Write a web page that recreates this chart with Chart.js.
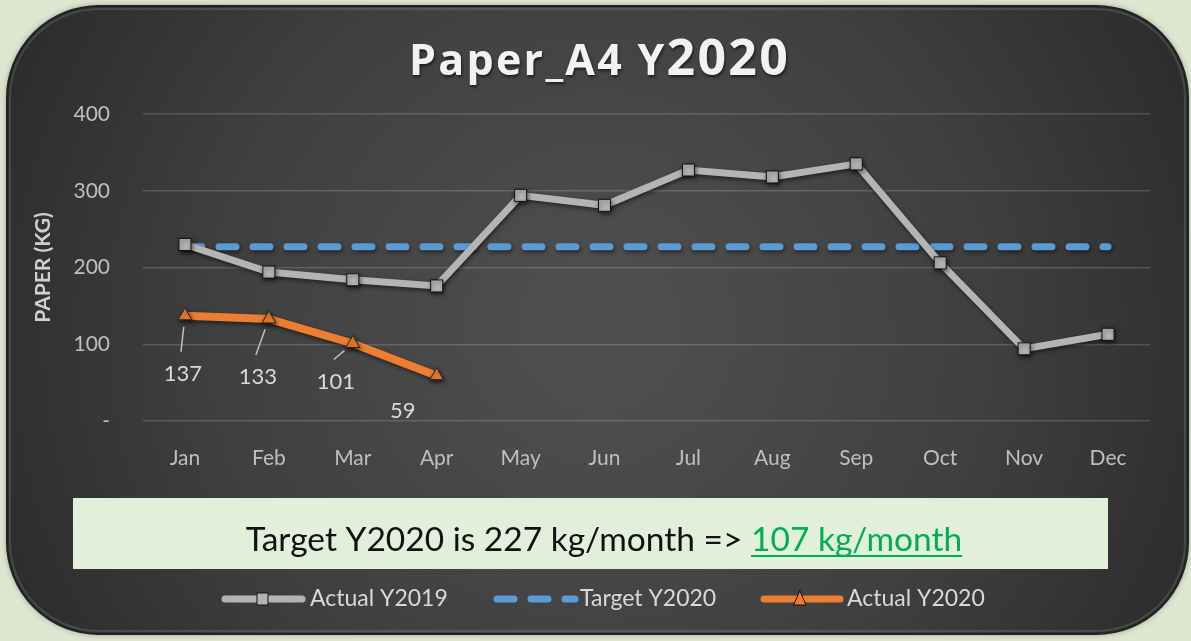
<!DOCTYPE html>
<html>
<head>
<meta charset="utf-8">
<script src="https://cdn.jsdelivr.net/npm/chart.js@4.4.0/dist/chart.umd.min.js"></script>
<style>
  html, body { margin: 0; padding: 0; background: #dde6cf; }
  #wrap { width: 1191px; height: 641px; }
</style>
</head>
<body>
<div id="wrap"><canvas id="paperChart"></canvas></div>
<script>
// data
const months = ['Jan', 'Feb', 'Mar', 'Apr', 'May', 'Jun', 'Jul', 'Aug', 'Sep', 'Oct', 'Nov', 'Dec'];
const actual2019 = [230, 194, 184, 176, 294, 281, 327, 318, 335, 206, 94, 113];
const target2020 = [227, 227, 227, 227, 227, 227, 227, 227, 227, 227, 227, 227];
const actual2020 = [137, 133, 101, 59, null, null, null, null, null, null, null, null];
const yTicks = [0, 100, 200, 300, 400];
const seriesNames = ['Actual Y2019', 'Target Y2020', 'Actual Y2020'];
const titleMain = 'Paper_A4 Y';
const titleYear = '2020';
const noteText = 'Target Y2020 is 227 kg/month => ';
const noteGoal = '107 kg/month';

const FONT = 'Lato, "Open Sans", sans-serif';
const GRAY = '#b4b4b4';
const BLUE = '#5b9bd5';
const ORANGE = '#ed7d31';

function roundRect(ctx, x, y, w, h, r) {
    ctx.beginPath();
    ctx.moveTo(x + r, y);
    ctx.arcTo(x + w, y, x + w, y + h, r);
    ctx.arcTo(x + w, y + h, x, y + h, r);
    ctx.arcTo(x, y + h, x, y, r);
    ctx.arcTo(x, y, x + w, y, r);
    ctx.closePath();
}

const panelPlugin = {
    id: 'panel',
    beforeDraw(chart) {
        const ctx = chart.ctx;
        const W = chart.width, H = chart.height;
        ctx.save();
        ctx.fillStyle = '#dde6cf';
        ctx.fillRect(0, 0, W, H);
        // dark rounded panel
        roundRect(ctx, 7, 6, 1181, 628, 92);
        const g = ctx.createRadialGradient(600, 330, 40, 600, 330, 680);
        g.addColorStop(0, '#4f4f4f');
        g.addColorStop(0.55, '#3f3f3f');
        g.addColorStop(1, '#2a2a2a');
        ctx.fillStyle = g;
        ctx.shadowColor = 'rgba(0,0,0,0.35)';
        ctx.shadowBlur = 6;
        ctx.fill();
        ctx.shadowBlur = 0;
        ctx.lineWidth = 2;
        ctx.strokeStyle = '#222';
        ctx.stroke();
        // soft highlight on the rim
        roundRect(ctx, 10, 9, 1175, 622, 89);
        ctx.lineWidth = 2;
        ctx.strokeStyle = 'rgba(255,255,255,0.12)';
        ctx.stroke();
        ctx.restore();
    },
    beforeDatasetDraw(chart) {
        const ctx = chart.ctx;
        ctx.save();
        ctx.shadowColor = 'rgba(0,0,0,0.55)';
        ctx.shadowBlur = 4;
        ctx.shadowOffsetX = 1;
        ctx.shadowOffsetY = 2;
    },
    afterDatasetDraw(chart) {
        chart.ctx.restore();
    },
    afterDatasetsDraw(chart) {
        // value labels for Actual Y2020 with leader lines
        const ctx = chart.ctx;
        const meta = chart.getDatasetMeta(2);
        const offsets = [[-2, 58, true], [-11, 58, true], [-17, 38, true], [-34, 35, false]];
        ctx.save();
        ctx.font = '22px ' + FONT;
        ctx.fillStyle = '#d9d9d9';
        ctx.textAlign = 'center';
        ctx.textBaseline = 'middle';
        meta.data.forEach((pt, i) => {
            const v = actual2020[i];
            if (v == null || !offsets[i]) return;
            const lx = pt.x + offsets[i][0];
            const ly = pt.y + offsets[i][1];
            ctx.fillText(String(v), lx, ly);
            if (offsets[i][2]) {
                const sx = lx - 2, sy = ly - 22;
                const dx = sx - pt.x, dy = sy - pt.y;
                const d = Math.hypot(dx, dy);
                ctx.beginPath();
                ctx.moveTo(sx, sy);
                ctx.lineTo(pt.x + dx / d * 11, pt.y + dy / d * 11);
                ctx.strokeStyle = '#bfbfbf';
                ctx.lineWidth = 1.5;
                ctx.stroke();
            }
        });
        ctx.restore();
    },
    afterDraw(chart) {
        const ctx = chart.ctx;
        ctx.save();

        // title, letter-spaced to span about 380px
        ctx.textBaseline = 'alphabetic';
        ctx.textAlign = 'left';
        const f1 = 'bold 43px "Open Sans", sans-serif';
        const f2 = 'bold 50px "Open Sans", sans-serif';
        ctx.letterSpacing = '0px';
        ctx.font = f1;
        const w1 = ctx.measureText(titleMain).width;
        ctx.font = f2;
        const w2 = ctx.measureText(titleYear).width;
        const nCh = titleMain.length + titleYear.length;
        const sp = Math.max(0, (381 - w1 - w2) / nCh);
        const tx = 409;
        ctx.shadowColor = 'rgba(0,0,0,0.6)';
        ctx.shadowBlur = 3;
        ctx.shadowOffsetX = 1;
        ctx.shadowOffsetY = 2;
        ctx.fillStyle = '#f2f2f2';
        ctx.letterSpacing = sp + 'px';
        ctx.font = f1;
        ctx.fillText(titleMain, tx, 75);
        ctx.font = f2;
        ctx.fillText(titleYear, tx + w1 + sp * titleMain.length, 75);
        ctx.letterSpacing = '0px';
        ctx.shadowColor = 'transparent';

        // note box
        ctx.fillStyle = '#e2efda';
        ctx.fillRect(73, 498, 1035, 71);
        ctx.font = '33.5px ' + FONT;
        const n1 = ctx.measureText(noteText).width;
        const n2 = ctx.measureText(noteGoal).width;
        const nx = 604 - (n1 + n2) / 2;
        ctx.fillStyle = '#111';
        ctx.fillText(noteText, nx, 551);
        ctx.fillStyle = '#00b050';
        ctx.fillText(noteGoal, nx + n1, 551);
        ctx.fillRect(nx + n1, 555, n2, 2);

        // legend
        const ly = 599;
        ctx.font = '23px ' + FONT;
        ctx.textBaseline = 'middle';
        ctx.lineCap = 'round';
        // Actual Y2019
        ctx.strokeStyle = GRAY; ctx.lineWidth = 7;
        ctx.beginPath(); ctx.moveTo(225, ly); ctx.lineTo(302, ly); ctx.stroke();
        ctx.fillStyle = GRAY; ctx.fillRect(257, ly - 6, 11, 12);
        ctx.strokeStyle = '#111'; ctx.lineWidth = 1; ctx.strokeRect(257, ly - 6, 11, 12);
        ctx.fillStyle = '#d9d9d9';
        ctx.fillText(seriesNames[0], 310, ly);
        // Target Y2020
        ctx.strokeStyle = BLUE; ctx.lineWidth = 7;
        ctx.setLineDash([17, 17]);
        ctx.beginPath(); ctx.moveTo(497, ly); ctx.lineTo(575, ly); ctx.stroke();
        ctx.setLineDash([]);
        ctx.fillText(seriesNames[1], 580, ly);
        // Actual Y2020
        ctx.strokeStyle = ORANGE; ctx.lineWidth = 7;
        ctx.beginPath(); ctx.moveTo(764, ly); ctx.lineTo(840, ly); ctx.stroke();
        ctx.beginPath();
        ctx.moveTo(800, ly - 8); ctx.lineTo(806, ly + 6); ctx.lineTo(794, ly + 6); ctx.closePath();
        ctx.fillStyle = ORANGE; ctx.fill();
        ctx.strokeStyle = '#111'; ctx.lineWidth = 1; ctx.stroke();
        ctx.fillStyle = '#d9d9d9';
        ctx.fillText(seriesNames[2], 847, ly);

        ctx.restore();
    }
};

const ctx = document.getElementById('paperChart');
new Chart(ctx, {
    type: 'line',
    data: {
        labels: months,
        datasets: [
            {
                label: seriesNames[0],
                data: actual2019,
                borderColor: GRAY,
                borderWidth: 7,
                pointStyle: 'rect',
                pointRadius: 8.5,
                pointBackgroundColor: GRAY,
                pointBorderColor: '#111',
                pointBorderWidth: 1,
                tension: 0
            },
            {
                label: seriesNames[1],
                data: target2020,
                borderColor: BLUE,
                borderWidth: 7,
                borderDash: [17, 17],
                borderCapStyle: 'round',
                pointRadius: 0,
                tension: 0
            },
            {
                label: seriesNames[2],
                data: actual2020,
                borderColor: ORANGE,
                borderWidth: 8,
                pointStyle: 'triangle',
                pointRadius: 8,
                pointBackgroundColor: ORANGE,
                pointBorderColor: '#222',
                pointBorderWidth: 1,
                spanGaps: false,
                tension: 0
            }
        ]
    },
    options: {
        responsive: true,
        maintainAspectRatio: false,
        animation: false,
        layout: { padding: { left: 0, right: 41, top: 114, bottom: 160 } },
        plugins: {
            legend: { display: false },
            title: { display: false },
            tooltip: { enabled: false }
        },
        scales: {
            x: {
                offset: true,
                grid: { display: false },
                border: { display: false },
                ticks: { color: '#bfbfbf', font: { family: FONT, size: 21 }, padding: 17 },
                afterFit(scale) { scale.height = 60; }
            },
            y: {
                min: 0,
                max: 400,
                afterBuildTicks(scale) { scale.ticks = yTicks.map(v => ({ value: v })); },
                grid: { color: 'rgba(255,255,255,0.16)', lineWidth: 1.5, drawTicks: false },
                border: { display: false },
                ticks: {
                    color: '#bfbfbf',
                    font: { family: FONT, size: 21 },
                    padding: 33,
                    callback: v => v === 0 ? '-' : v
                },
                title: {
                    display: true,
                    text: 'PAPER (KG)',
                    color: '#d0d0d0',
                    font: { family: FONT, size: 21, weight: 'bold' },
                    padding: { top: 31, bottom: 0 }
                },
                afterFit(scale) { scale.width = 143; }
            }
        }
    },
    plugins: [panelPlugin]
});
</script>
</body>
</html>
